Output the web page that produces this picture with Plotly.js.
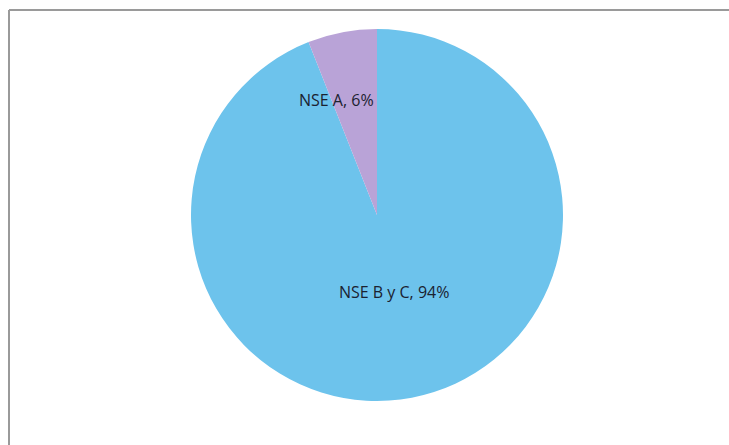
<!DOCTYPE html>
<html>
<head>
<meta charset="utf-8">
<script src="https://cdn.plot.ly/plotly-3.0.1.min.js"></script>
<style>html,body{margin:0;padding:0;background:#fff;}#chart{width:729px;height:445px;}</style>
</head>
<body>
<div id="chart"></div>
<script>
const labels = ["NSE B y C", "NSE A"];
const values = [94, 6];
const sliceColors = ["#6DC3EC", "#B9A3D7"];
const labelText = ["NSE B y C, 94%", "NSE A, 6%"];

const W = 729, H = 445;
const cx = 377, cy = 215, r = 186;

const trace = {
  type: "pie",
  labels: labels,
  values: values,
  sort: false,
  direction: "clockwise",
  rotation: 0,
  textinfo: "none",
  hoverinfo: "label+percent",
  marker: {colors: sliceColors, line: {width: 0}},
  domain: {x: [(cx - r) / W, (cx + r) / W], y: [1 - (cy + r) / H, 1 - (cy - r) / H]},
  showlegend: false
};

const annPos = [[394, 292], [336, 100]];
const annotations = labelText.map((t, i) => ({
  text: t,
  x: annPos[i][0] / W, y: 1 - annPos[i][1] / H,
  xref: "paper", yref: "paper",
  xanchor: "center", yanchor: "middle",
  showarrow: false,
  font: {family: "Open Sans, sans-serif", size: 16, color: "#1b2230"}
}));

const layout = {
  width: W, height: H,
  margin: {l: 0, r: 0, t: 0, b: 0},
  paper_bgcolor: "#ffffff",
  annotations: annotations,
  shapes: [
    {type: "line", xref: "paper", yref: "paper", x0: 9 / W, x1: 1, y0: 1 - 10 / H, y1: 1 - 10 / H, line: {color: "#9a9a9a", width: 2}},
    {type: "line", xref: "paper", yref: "paper", x0: 9 / W, x1: 9 / W, y0: 1 - 10 / H, y1: 0, line: {color: "#9a9a9a", width: 2}}
  ]
};

Plotly.newPlot("chart", [trace], layout, {displayModeBar: false, staticPlot: true});
</script>
</body>
</html>
